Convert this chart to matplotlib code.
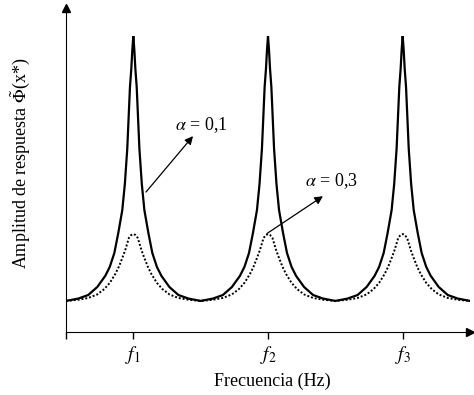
import numpy as np
from matplotlib import pyplot as plt

# Resonance peaks (frequency in units of f1, amplitude normalised)
peak_centres = [1.0, 2.0, 3.0]
tick_labels = ['$f_1$', '$f_2$', '$f_3$']

# half-profile of one peak: offset from centre -> amplitude, alpha = 0.1 (solid)
solid_off = [0, 0.0075, 0.015, 0.025, 0.045, 0.063, 0.082, 0.112, 0.141, 0.175, 0.208, 0.268, 0.335, 0.409, 0.5]
solid_amp = [1.0, 0.953, 0.89, 0.828, 0.62, 0.50, 0.412, 0.334, 0.267, 0.22, 0.19, 0.152, 0.125, 0.113, 0.105]

# alpha = 0.3 (dotted)
dot_off = [0, 0.015, 0.033, 0.06, 0.082, 0.108, 0.134, 0.175, 0.216, 0.268, 0.335, 0.409, 0.5]
dot_amp = [0.331, 0.328, 0.318, 0.277, 0.25, 0.22, 0.196, 0.166, 0.145, 0.127, 0.115, 0.109, 0.105]


def build(off, amp):
    off = np.array(off)
    amp = np.array(amp)
    xs, ys = [], []
    for c in peak_centres:
        xs.append(np.concatenate([c - off[::-1], c + off[1:]]))
        ys.append(np.concatenate([amp[::-1], amp[1:]]))
    return np.concatenate(xs), np.concatenate(ys)


plt.rcParams['font.family'] = 'Liberation Serif'
plt.rcParams['mathtext.fontset'] = 'stix'

fig = plt.figure(figsize=(4.74, 3.95), dpi=100)
ax = fig.add_axes([66 / 474, (395 - 332) / 395, 404 / 474, 324 / 395])

xs, ys = build(solid_off, solid_amp)
ax.plot(xs, ys, color='k', lw=1.6, solid_joinstyle='miter')
xd, yd = build(dot_off, dot_amp)
ax.plot(xd, yd, color='k', lw=1.4, ls=(0, (1, 1)))

ax.set_xlim(0.5, 3.5)
ax.set_ylim(0, 1.095)

# axes as arrows
ax.spines.right.set_visible(False)
ax.spines.top.set_visible(False)
ax.plot(1, 0, '>k', ms=6, transform=ax.get_yaxis_transform(), clip_on=False)
ax.plot(0.5, 1, '^k', ms=6, transform=ax.get_xaxis_transform(), clip_on=False)

ax.set_xticks([0.5] + peak_centres, labels=[''] + tick_labels, fontsize=14)
ax.tick_params(axis='x', direction='out', length=5, width=1, pad=4)
ax.set_yticks([])

ax.set_xlabel('Frecuencia (Hz)', fontsize=13)
ax.xaxis.set_label_coords(0.51, -0.125)
ax.set_ylabel(r'Amplitud de respuesta $\tilde{\Phi}$(x*)', fontsize=13)
ax.yaxis.set_label_coords(-0.085, 0.52)

# labels for the two damping values
arrow = dict(arrowstyle='-|>', lw=0.9, color='k', mutation_scale=12, shrinkA=0, shrinkB=0)
ax.annotate('', xy=(1.443, 0.662), xytext=(1.094, 0.473), arrowprops=arrow)
ax.text(1.502, 0.699, r'$\alpha$ = 0,1', fontsize=13, ha='center', va='center')
ax.annotate('', xy=(2.408, 0.459), xytext=(1.993, 0.333), arrowprops=arrow)
ax.text(2.468, 0.51, r'$\alpha$ = 0,3', fontsize=13, ha='center', va='center')

fig.savefig('out.png', dpi=100)
